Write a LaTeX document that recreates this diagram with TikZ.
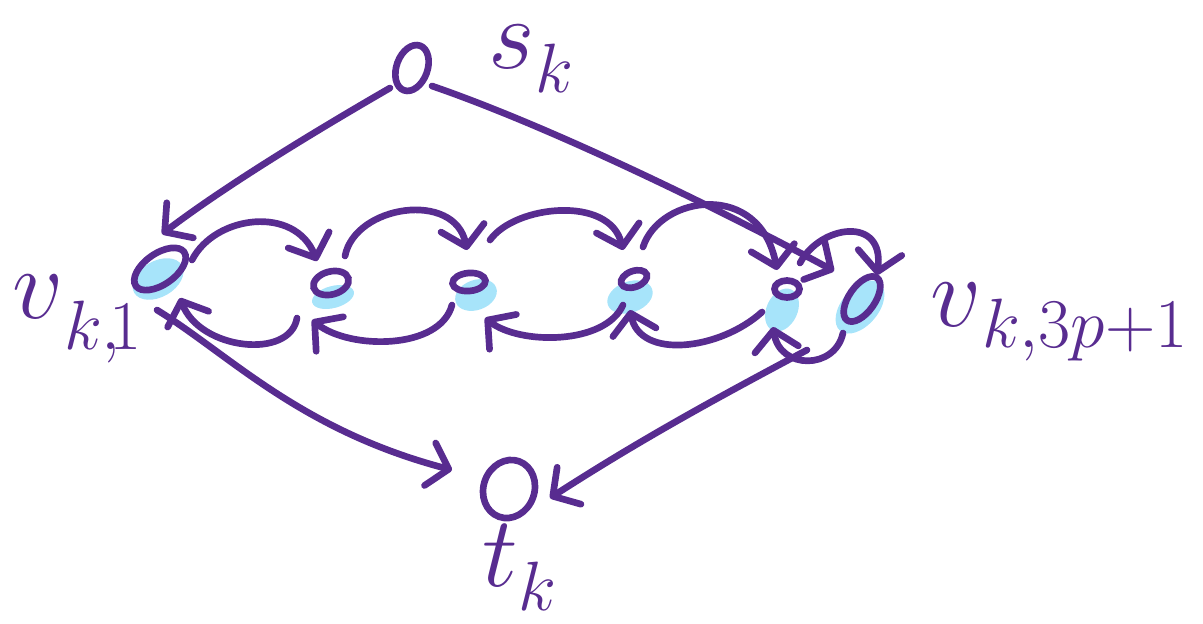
\documentclass[tikz,border=0pt]{standalone}
\usetikzlibrary{arrows.meta,calc,shapes.geometric}
\definecolor{ink}{RGB}{88,44,144}
\definecolor{hl}{RGB}{95,205,245}
\begin{document}
\begin{tikzpicture}[x=0.02cm,y=-0.02cm,
  >={Straight Barb[length=11pt,width=25pt,round]},
  vtx/.style={draw=ink,line width=3.8pt,ellipse,inner sep=0pt},
  blob/.style={fill=hl,draw=none,ellipse,inner sep=0pt,opacity=0.55},
  conn/.style={draw=ink,line width=3.8pt,line cap=round,line join=round,->},
  lab/.style={text=ink,inner sep=0pt,font=\fontsize{24}{28}\selectfont,scale=2.3,transform shape}]
\useasboundingbox (0,0) rectangle (1203,623);
% highlight blobs
\node[blob,minimum width=1.1cm,minimum height=0.72cm,rotate=30] at (158,279) {};
\node[blob,minimum width=0.86cm,minimum height=0.44cm,rotate=15] at (333,297) {};
\node[blob,minimum width=0.86cm,minimum height=0.6cm,rotate=20] at (476,295) {};
\node[blob,minimum width=0.94cm,minimum height=0.62cm,rotate=20] at (630,297) {};
\node[blob,minimum width=0.9cm,minimum height=0.62cm,rotate=65] at (782,310) {};
\node[blob,minimum width=1.24cm,minimum height=0.74cm,rotate=50] at (860,307) {};
% nodes
\node[vtx,minimum width=0.62cm,minimum height=0.95cm,rotate=-20] (s) at (412,68) {};
\node[vtx,minimum width=1.18cm,minimum height=0.62cm,rotate=35] (v1) at (160,269) {};
\node[vtx,minimum width=0.72cm,minimum height=0.46cm,rotate=15] (v2) at (331,283) {};
\node[vtx,minimum width=0.66cm,minimum height=0.36cm,rotate=5] (v3) at (469,282) {};
\node[vtx,minimum width=0.54cm,minimum height=0.32cm,rotate=20] (v4) at (634,279) {};
\node[vtx,minimum width=0.50cm,minimum height=0.34cm] (v5) at (787,289) {};
\node[vtx,minimum width=1.04cm,minimum height=0.52cm,rotate=55] (v6) at (862,299) {};
\node[vtx,minimum width=1.02cm,minimum height=1.18cm,rotate=-20] (t) at (509,489) {};
% labels
\node[lab,anchor=base west] (ls) at (488,68) {$s$\raisebox{-0.25em}{$\scriptstyle k$}};
\node[lab,anchor=base west] (l1) at (12,318) {$v$\raisebox{-0.32em}{$\scriptstyle k,\mkern-3mu1$}};
\node[lab,anchor=base west] (l2) at (930,326) {$v$\raisebox{-0.22em}{$\scriptstyle k,3p+1$}};
\node[lab,anchor=base west] (lt) at (482,586) {$t$\raisebox{-0.25em}{$\scriptstyle k$}};
% long connectors
\draw[conn] ($(s)+(-22,20)$) .. controls (300,140) and (220,190) .. ($(v1)+(2,-35)$);
\draw[conn] ($(s)+(20,18)$) .. controls (560,130) and (740,220) .. ($(v6)+(-28,-28)$);
\draw[conn] ($(v1)+(-3,41)$) .. controls (230,355) and (300,430) .. ($(t)+(-57,-19)$);
\draw[conn] ($(v6)+(-55,51)$) .. controls (713,400) and (640,440) .. ($(t)+(41,9)$);
% forward arcs (top)
\draw[conn] ($(v1)+(32,-9)$) .. controls (215,215) and (295,205) .. ($(v2)+(-14,-22)$);
\draw[conn] ($(v2)+(14,-27)$) .. controls (355,205) and (455,190) .. ($(v3)+(-2,-32)$);
\draw[conn] ($(v3)+(21,-42)$) .. controls (515,205) and (610,195) .. ($(v4)+(-11,-29)$);
\draw[conn] ($(v4)+(9,-32)$) .. controls (660,195) and (760,180) .. ($(v5)+(-10,-19)$);
\draw[conn] ($(v5)+(13,-26)$) .. controls (820,225) and (885,215) .. ($(v6)+(15,-24)$);
% backward arcs (bottom)
\draw[conn] ($(v2)+(-34,35)$) .. controls (290,360) and (200,350) .. ($(v1)+(20,29)$);
\draw[conn] ($(v3)+(-17,23)$) .. controls (440,350) and (350,350) .. ($(v2)+(-19,37)$);
\draw[conn] ($(v4)+(-11,26)$) .. controls (605,345) and (520,345) .. ($(v3)+(16,36)$);
\draw[conn] ($(v5)+(-25,23)$) .. controls (720,350) and (640,360) .. ($(v4)+(-4,31)$);
\draw[conn] ($(v6)+(-19,34)$) .. controls (835,370) and (780,370) .. ($(v5)+(-14,38)$);
\end{tikzpicture}
\end{document}
